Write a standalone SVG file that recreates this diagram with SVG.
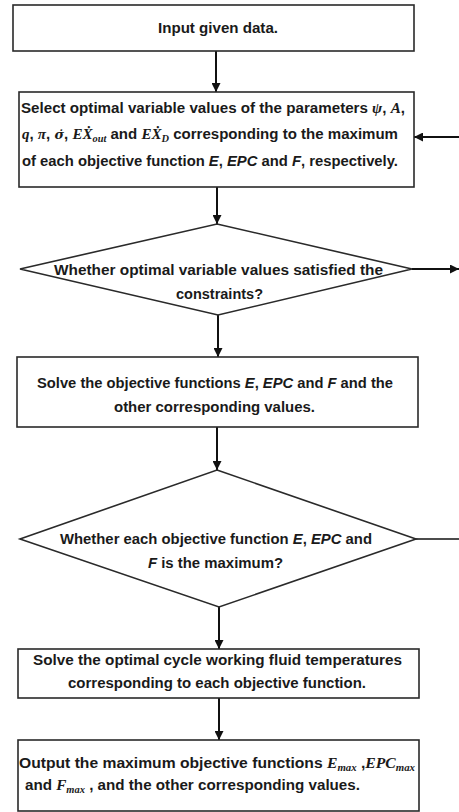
<svg xmlns="http://www.w3.org/2000/svg" width="459" height="812" viewBox="0 0 459 812">
<style>
.box{fill:#fff;stroke:#2a2a2a;stroke-width:1.6}
.t{font-family:"Liberation Sans",Arial,sans-serif;font-weight:bold;font-size:14.5px;fill:#1a1a1a}
.m{font-family:"Liberation Serif","Times New Roman",serif;font-style:italic;font-weight:bold}
.dj{font-family:"DejaVu Serif",serif;font-size:12.5px}
.i{font-style:italic}
.sub{font-size:10px}
.c{stroke:#111;stroke-width:2;fill:none}
.thin{stroke:#111;stroke-width:1.4;fill:none}
</style>
<defs>
<marker id="ah" markerUnits="userSpaceOnUse" markerWidth="9" markerHeight="9" refX="9" refY="4.5" orient="auto">
<path d="M0,0 L9,4.5 L0,9 z" fill="#111"/>
</marker>
</defs>
<rect width="459" height="812" fill="#fff"/>
<g id="connectors">
<line class="c" x1="216" y1="51" x2="216" y2="92" marker-end="url(#ah)"/>
<line class="c" x1="217" y1="187" x2="217" y2="224" marker-end="url(#ah)"/>
<line class="c" x1="218" y1="315" x2="218" y2="357" marker-end="url(#ah)"/>
<line class="c" x1="217" y1="427" x2="217" y2="470" marker-end="url(#ah)"/>
<line class="c" x1="219" y1="607" x2="219" y2="649" marker-end="url(#ah)"/>
<line class="c" x1="219" y1="698" x2="219" y2="740" marker-end="url(#ah)"/>
<line class="c" x1="459" y1="137" x2="414" y2="137" marker-end="url(#ah)"/>
<line class="c" x1="412" y1="269" x2="459" y2="269" marker-end="url(#ah)"/>
<line class="thin" x1="416" y1="539" x2="459" y2="539"/>
</g>
<g id="n1">
<rect class="box" x="13" y="5" width="401" height="46"/>
<text class="t" x="158" y="33" textLength="120" lengthAdjust="spacingAndGlyphs">Input given data.</text>
</g>
<g id="n2">
<rect class="box" x="19" y="92" width="395" height="95"/>
<text class="t" x="21" y="113" textLength="384" lengthAdjust="spacingAndGlyphs">Select optimal variable values of the parameters <tspan class="m">ψ</tspan>, <tspan class="m">A</tspan>,</text>
<text class="t" x="22" y="139" textLength="376" lengthAdjust="spacingAndGlyphs"><tspan class="m">q</tspan>, <tspan class="m">π</tspan>, <tspan class="m dj">σ̇</tspan>, <tspan class="m">EẊ</tspan><tspan class="m sub" dy="3">out</tspan><tspan dy="-3">  and </tspan><tspan class="m">EẊ</tspan><tspan class="m sub" dy="3">D</tspan><tspan dy="-3"> corresponding to the maximum</tspan></text>
<text class="t" x="22" y="166" textLength="376" lengthAdjust="spacingAndGlyphs">of each objective function <tspan class="i">E</tspan>, <tspan class="i">EPC</tspan> and <tspan class="i">F</tspan>, respectively.</text>
</g>
<g id="n3">
<polygon class="box" points="217,224 412,269 218,315 20,269"/>
<text class="t" x="54" y="275" textLength="329" lengthAdjust="spacingAndGlyphs">Whether optimal variable values satisfied the</text>
<text class="t" x="176" y="299" textLength="87" lengthAdjust="spacingAndGlyphs">constraints?</text>
</g>
<g id="n4">
<rect class="box" x="17" y="357" width="401" height="70"/>
<text class="t" x="37" y="388" textLength="356" lengthAdjust="spacingAndGlyphs">Solve the objective functions <tspan class="i">E</tspan>, <tspan class="i">EPC</tspan> and <tspan class="i">F</tspan> and the</text>
<text class="t" x="114" y="412" textLength="201" lengthAdjust="spacingAndGlyphs">other corresponding values.</text>
</g>
<g id="n5">
<polygon class="box" points="217,470 416,539 219,607 20,539"/>
<text class="t" x="60" y="544" textLength="312" lengthAdjust="spacingAndGlyphs">Whether each objective function <tspan class="i">E</tspan>, <tspan class="i">EPC</tspan> and</text>
<text class="t" x="148" y="568" textLength="135" lengthAdjust="spacingAndGlyphs"><tspan class="i">F</tspan> is the maximum?</text>
</g>
<g id="n6">
<rect class="box" x="18" y="649" width="401" height="49"/>
<text class="t" x="33" y="665" textLength="369" lengthAdjust="spacingAndGlyphs">Solve the optimal cycle working fluid temperatures</text>
<text class="t" x="68" y="688" textLength="298" lengthAdjust="spacingAndGlyphs">corresponding to each objective function.</text>
</g>
<g id="n7">
<rect class="box" x="18" y="740" width="401" height="71"/>
<text class="t" x="19" y="768" textLength="396" lengthAdjust="spacingAndGlyphs">Output the maximum objective functions  <tspan class="m" font-weight="normal">E</tspan><tspan class="m sub" font-weight="normal" dy="3">max</tspan><tspan dy="-3"> ,</tspan><tspan class="m" font-weight="normal">EPC</tspan><tspan class="m sub" font-weight="normal" dy="3">max</tspan></text>
<text class="t" x="25" y="790" textLength="335" lengthAdjust="spacingAndGlyphs">and <tspan class="m" font-weight="normal">F</tspan><tspan class="m sub" font-weight="normal" dy="3">max</tspan><tspan dy="-3"> , and the other corresponding values.</tspan></text>
</g>
</svg>
